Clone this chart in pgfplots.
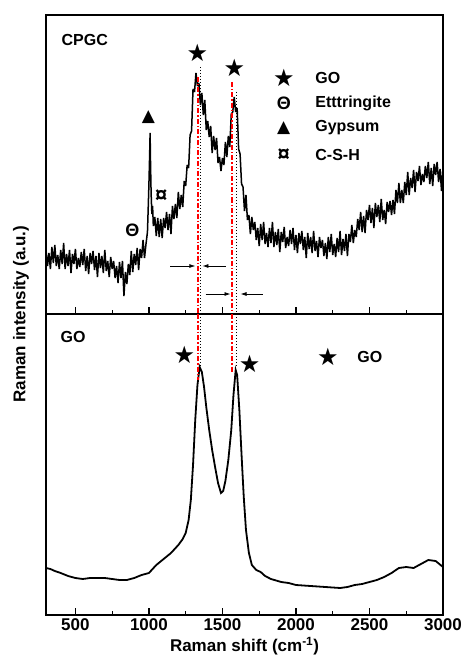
\documentclass[border=0pt]{standalone}
\usepackage{fontspec}
\setmainfont{Liberation Sans}
\newfontfamily\sym{DejaVu Sans}
\usepackage{pgfplots}
\pgfplotsset{compat=1.18}
\usetikzlibrary{arrows.meta,calc}

\pgfplotsset{
  ramanpanel/.style={
    scale only axis, width=397pt,
    xmin=300, xmax=3000, ymin=0,
    axis line style={line width=1.2pt},
    xtick={500,1000,...,3000}, minor x tick num=1,
    xtick pos=left, ytick=\empty,
    tick align=inside,
    major tick length=7pt, minor tick length=4pt,
    every tick/.append style={line width=1.2pt, black},
    clip mode=individual,
    /pgf/number format/1000 sep={},
    /pgf/number format/assume math mode=true,
  },
}
\tikzset{
  lbl/.style={font=\bfseries\fontsize{16}{18}\selectfont},
  theta/.style={font=\bfseries\fontsize{18}{20}\selectfont},
  cur/.style={font=\bfseries\fontsize{22}{24}\selectfont},
  tri/.style={font=\sym\fontsize{17}{19}\selectfont},
  star/.style={font=\sym\fontsize{24}{26}\selectfont},
  redv/.style={red, line width=2pt, dash pattern=on 5pt off 2pt on 1.5pt off 2pt},
  blkv/.style={black, line width=1.1pt, dash pattern=on 1.2pt off 1.8pt},
  arr/.style={-{Latex[length=6pt,width=4pt]}, line width=0.8pt},
}

\begin{document}
\begin{tikzpicture}
% CPGC spectrum (upper panel)
\begin{axis}[ramanpanel, name=top, height=299pt, ymax=299, xticklabel=\empty]
\addplot[black, line width=1.5pt, line join=bevel] coordinates {
(300,64) (310,48) (320,61) (330,45) (340,67) (350,51) (360,69) (370,48) (380,59) (390,45)
(400,64) (410,50) (420,71) (430,45) (440,60) (450,48) (460,64) (470,41) (480,60) (490,50)
(500,65) (510,45) (520,56) (530,47) (540,62) (550,49) (560,65) (570,43) (580,58) (590,40)
(600,61) (610,50) (620,63) (630,44) (640,58) (650,37) (660,61) (670,46) (680,58) (690,41)
(700,64) (710,43) (720,53) (730,37) (740,57) (750,45) (760,53) (770,36) (780,48) (790,31)
(800,52) (810,36) (820,53) (830,18) (840,42) (850,30) (860,50) (870,39) (880,63) (890,42)
(900,60) (910,49) (920,66) (930,44) (940,65) (950,56) (960,74) (970,56) (980,70) (990,82)
(995,105) (1000,130) (1005,160) (1008,181) (1011,150) (1015,120) (1020,100) (1025,108)
(1030,88) (1040,97) (1050,78) (1060,96) (1070,77) (1080,95) (1090,76) (1100,96) (1110,86)
(1120,102) (1130,84) (1140,100) (1150,80) (1160,108) (1170,95) (1180,110) (1190,96) (1200,122)
(1210,105) (1220,119) (1230,107) (1240,133) (1250,128) (1260,149) (1270,146) (1280,179)
(1290,183) (1300,225) (1310,222) (1320,241) (1330,228) (1340,231) (1350,209) (1360,221)
(1370,199) (1380,214) (1390,184) (1400,193) (1410,177) (1420,188) (1430,161) (1440,178)
(1450,164) (1460,176) (1470,151) (1480,157) (1490,143) (1500,156) (1510,149) (1520,172)
(1530,157) (1540,178) (1550,167) (1560,200) (1570,202) (1580,217) (1590,202) (1600,206)
(1610,165) (1620,160) (1630,130) (1640,127) (1650,103) (1660,119) (1670,94) (1680,99)
(1690,80) (1700,97) (1710,84) (1720,92) (1730,74) (1740,86) (1750,68) (1760,90) (1770,74)
(1780,92) (1790,70) (1800,81) (1810,67) (1820,86) (1830,71) (1840,92) (1850,67) (1860,82)
(1870,69) (1880,85) (1890,62) (1900,82) (1910,72) (1920,87) (1930,66) (1940,77) (1950,68)
(1960,84) (1970,70) (1980,86) (1990,64) (2000,79) (2010,61) (2020,81) (2030,70) (2040,83)
(2050,64) (2060,77) (2070,56) (2080,81) (2090,65) (2100,77) (2110,61) (2120,83) (2130,63)
(2140,73) (2150,57) (2160,77) (2170,66) (2180,74) (2190,58) (2200,71) (2210,55) (2220,77)
(2230,62) (2240,80) (2250,59) (2260,70) (2270,57) (2280,76) (2290,62) (2300,83) (2310,59)
(2320,75) (2330,63) (2340,80) (2350,58) (2360,80) (2370,72) (2380,89) (2390,71) (2400,84)
(2410,77) (2420,95) (2430,84) (2440,102) (2450,82) (2460,98) (2470,81) (2480,104) (2490,94)
(2500,109) (2510,91) (2520,106) (2530,86) (2540,111) (2550,97) (2560,109) (2570,92) (2580,115)
(2590,94) (2600,104) (2610,90) (2620,112) (2630,102) (2640,113) (2650,99) (2660,114) (2670,100)
(2680,124) (2690,111) (2700,131) (2710,111) (2720,124) (2730,111) (2740,132) (2750,119)
(2760,142) (2770,119) (2780,136) (2790,126) (2800,144) (2810,122) (2820,142) (2830,133)
(2840,148) (2850,129) (2860,140) (2870,132) (2880,148) (2890,136) (2900,152) (2910,130)
(2920,146) (2930,128) (2940,150) (2950,139) (2960,152) (2970,132) (2980,145) (2990,123) (3000,147)
};
\draw[redv] (axis cs:1337,237) -- (axis cs:1337,0);
\draw[blkv] (axis cs:1350,247) -- (axis cs:1350,0);
\draw[redv] (axis cs:1567,232) -- (axis cs:1567,0);
\draw[blkv] (axis cs:1594,222) -- (axis cs:1594,0);
\draw[arr] (axis cs:1146,48) -- (axis cs:1316,48);
\draw[arr] (axis cs:1521,48) -- (axis cs:1364,48);
\draw[arr] (axis cs:1385,20) -- (axis cs:1555,20);
\draw[arr] (axis cs:1774,20) -- (axis cs:1623,20);
\node[lbl, anchor=west] at (axis cs:382,274) {CPGC};
\node[star] at (axis cs:1330,261) {★};
\node[star] at (axis cs:1582,246) {★};
\node[tri] at (axis cs:996,197) {▲};
\node[theta] at (axis cs:887,84) {Θ};
\node[cur] at (axis cs:1084,118) {¤};
\node[star] at (axis cs:1917,236) {★};
\node[theta] at (axis cs:1917,211) {Θ};
\node[tri] at (axis cs:1917,186) {▲};
\node[cur] at (axis cs:1917,159) {¤};
\node[lbl, anchor=west] at (axis cs:2108,236) {GO};
\node[lbl, anchor=west] at (axis cs:2108,211) {Etttringite};
\node[lbl, anchor=west] at (axis cs:2108,186) {Gypsum};
\node[lbl, anchor=west] at (axis cs:2108,159) {C-S-H};
\end{axis}
% GO spectrum (lower panel)
\begin{axis}[ramanpanel, name=bot, at={(top.south west)}, anchor=north west,
  height=301pt, ymax=301,
  xticklabel style={font=\bfseries\fontsize{17}{19}\selectfont},
  xlabel={Raman shift (cm\textsuperscript{-1})},
  xlabel style={font=\bfseries\fontsize{17}{19}\selectfont},
]
\addplot[black, line width=1.8pt] coordinates {
(300,47) (330,46) (360,44) (400,42) (450,39) (500,37) (550,36) (600,37) (650,37) (700,37)
(750,36) (800,35) (850,35) (900,37) (950,40) (1000,42) (1050,50) (1100,56) (1150,62)
(1200,70) (1230,76) (1250,82) (1270,95) (1285,115) (1300,150) (1315,195) (1330,230)
(1345,248) (1360,243) (1375,228) (1390,208) (1410,185) (1430,165) (1450,148) (1470,132)
(1490,122) (1505,124) (1520,134) (1540,155) (1560,185) (1575,220) (1590,245) (1600,240)
(1615,205) (1630,160) (1645,118) (1660,85) (1680,62) (1700,50) (1730,45) (1760,43)
(1790,39) (1830,36) (1900,33) (1950,32) (2000,30) (2100,29) (2200,28) (2300,27) (2350,28)
(2400,30) (2450,31) (2500,33) (2550,35) (2600,38) (2650,42) (2700,47) (2750,48) (2800,47)
(2850,51) (2900,55) (2950,54) (3000,48)
};
\draw[redv] (axis cs:1337,301) -- (axis cs:1337,235);
\draw[blkv] (axis cs:1350,301) -- (axis cs:1350,248);
\draw[redv] (axis cs:1567,301) -- (axis cs:1567,243);
\draw[blkv] (axis cs:1594,301) -- (axis cs:1594,248);
\node[lbl, anchor=west] at (axis cs:375,278) {GO};
\node[star] at (axis cs:1241,260) {★};
\node[star] at (axis cs:1685,251) {★};
\node[star] at (axis cs:2217,258) {★};
\node[lbl, anchor=west] at (axis cs:2394,258) {GO};
\end{axis}
\node[rotate=90, font=\bfseries\fontsize{17}{19}\selectfont] at ($(bot.north west)+(-25pt,0)$) {Raman intensity (a.u.)};
\path[use as bounding box] ($(top.north west)+(-46pt,15pt)$) rectangle ($(top.north west)+(420pt,-652pt)$);
\end{tikzpicture}
\end{document}
